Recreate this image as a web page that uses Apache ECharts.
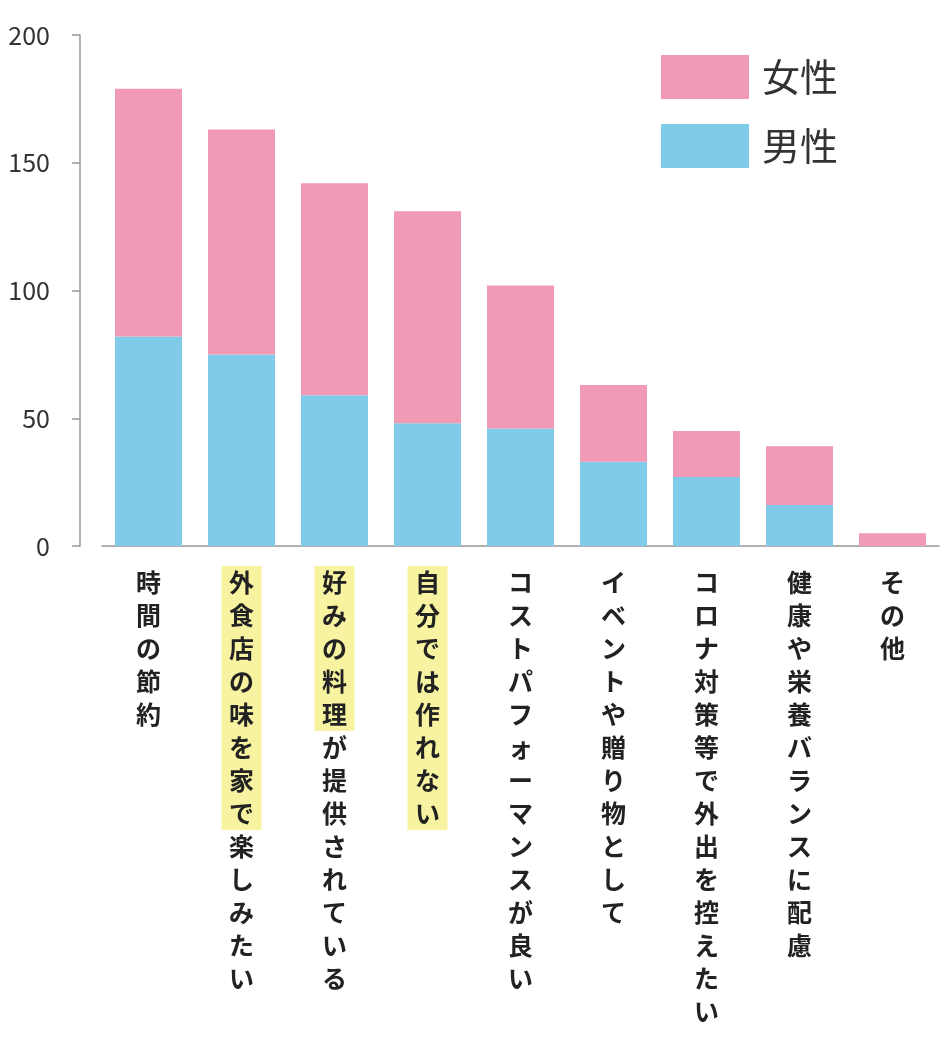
<!DOCTYPE html>
<html><head><meta charset="utf-8">
<script src="https://cdn.jsdelivr.net/npm/echarts@6/dist/echarts.min.js"></script>
<style>html,body{margin:0;padding:0;background:#fff}#chart{width:944px;height:1040px}</style>
</head><body><div id="chart"></div>
<script>
// データ
const categories = ['時間の節約', '外食店の味を家で楽しみたい', '好みの料理が提供されている', '自分では作れない', 'コストパフォーマンスが良い', 'イベントや贈り物として', 'コロナ対策等で外出を控えたい', '健康や栄養バランスに配慮', 'その他'];
const highlightLen = [0, 8, 5, 8, 0, 0, 0, 0, 0];
const maleValues = [82, 75, 59, 48, 46, 33, 27, 16, 0];
const femaleValues = [97, 88, 83, 83, 56, 30, 18, 23, 5];

const chart = echarts.init(document.getElementById('chart'));
const font = '"Noto Sans CJK JP", "Noto Sans", sans-serif';

chart.setOption({
    animation: false,
    grid: { left: 102, right: 5, top: 35, bottom: 494 },
    legend: {
        orient: 'vertical',
        left: 656,
        top: 50,
        itemWidth: 88,
        itemHeight: 44,
        itemGap: 25,
        icon: 'rect',
        data: ['女性', '男性'],
        textStyle: { fontSize: 38, color: '#333', fontFamily: font, padding: [0, 0, 0, 8] }
    },
    xAxis: {
        type: 'category',
        data: categories,
        axisLine: { lineStyle: { color: '#999', width: 1.5 } },
        axisTick: { show: false },
        axisLabel: {
            interval: 0,
            margin: 20,
            verticalAlign: 'top',
            formatter: (value, idx) => {
                const n = highlightLen[idx];
                return value.split('').map((c, i) => (i < n ? '{h|' : '{n|') + c + '}').join('\n');
            },
            rich: {
                n: { fontSize: 25, fontWeight: 'bold', color: '#222', fontFamily: font, lineHeight: 33, width: 40, align: 'center' },
                h: { fontSize: 25, fontWeight: 'bold', color: '#222', fontFamily: font, lineHeight: 33, width: 40, align: 'center', backgroundColor: '#f7f3a1', height: 33 }
            }
        }
    },
    yAxis: {
        type: 'value',
        min: 0,
        max: 200,
        interval: 50,
        offset: 22,
        splitLine: { show: false },
        axisLine: { show: true, lineStyle: { color: '#999', width: 1.5 } },
        axisTick: { show: true, length: 8, lineStyle: { color: '#999', width: 1.5 } },
        axisLabel: { fontSize: 25, color: '#333', fontFamily: font, margin: 30 }
    },
    series: [
        {
            name: '男性',
            type: 'bar',
            stack: 'total',
            barWidth: 67,
            data: maleValues,
            itemStyle: { color: '#80cbea' }
        },
        {
            name: '女性',
            type: 'bar',
            stack: 'total',
            barWidth: 67,
            data: femaleValues,
            itemStyle: { color: '#f09ab5' }
        }
    ]
});
</script></body></html>
